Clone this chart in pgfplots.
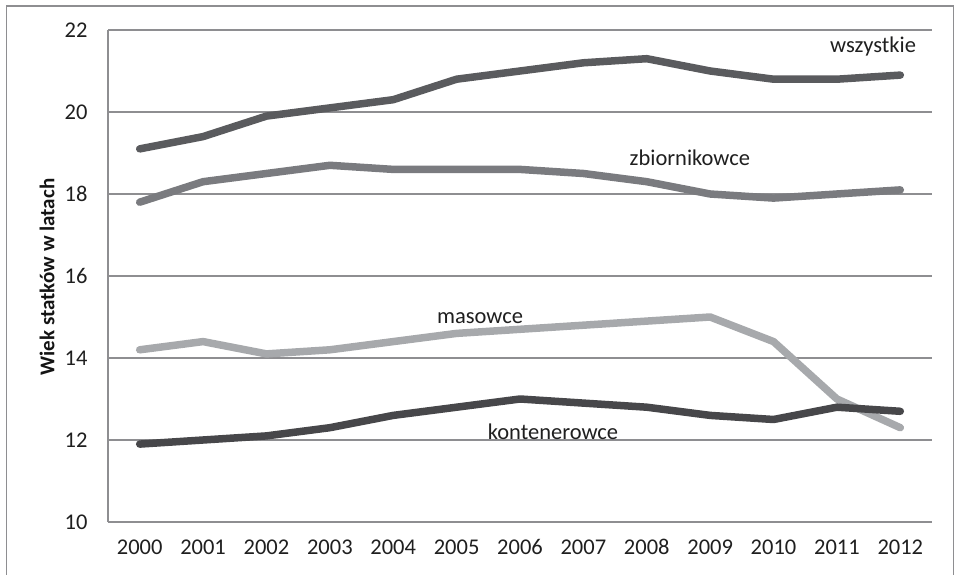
\documentclass[border=0pt]{standalone}
\usepackage{pgfplots}
\pgfplotsset{compat=1.18}
\usepackage{fontspec}
\setmainfont{Carlito}
\definecolor{cwsz}{HTML}{5A5B5E}
\definecolor{czb}{HTML}{7A7B7F}
\definecolor{cmas}{HTML}{A7A9AC}
\definecolor{ckon}{HTML}{47474A}
\definecolor{cgrid}{HTML}{8E8E91}
\begin{document}
\begin{tikzpicture}
\useasboundingbox (-108bp,-53bp) rectangle (848bp,522bp);
\draw[cgrid, line width=1.2bp] (-101.5bp,-60bp) -- (-101.5bp,516bp) -- (845.5bp,516bp) -- (845.5bp,-60bp);
\begin{axis}[
  at={(0bp,0bp)}, anchor=south west,
  scale only axis, width=824bp, height=492bp,
  xmin=-0.5, xmax=12.5, ymin=10, ymax=22,
  xtick={0,...,12},
  xticklabels={2000,2001,2002,2003,2004,2005,2006,2007,2008,2009,2010,2011,2012},
  ytick={10,12,...,22},
  ymajorgrids, grid style={cgrid, line width=1.2bp},
  axis x line*=bottom, axis y line*=left,
  axis line style={cgrid, line width=1.5bp, -},
  tick style={draw=none},
  major tick length=0pt,
  tick label style={font=\fontsize{22.5bp}{26bp}\selectfont, text=black!88},
  /pgf/number format/assume math mode=true,
  yticklabel style={xshift=-17bp},
  xticklabel style={yshift=-14bp},
  clip=false,
  every axis plot/.append style={line width=7.5bp, line join=round, line cap=round},
]
\addplot[cwsz] coordinates {(0,19.1)(1,19.4)(2,19.9)(3,20.1)(4,20.3)(5,20.8)(6,21.0)(7,21.2)(8,21.3)(9,21.0)(10,20.8)(11,20.8)(12,20.9)};
\addplot[czb] coordinates {(0,17.8)(1,18.3)(2,18.5)(3,18.7)(4,18.6)(5,18.6)(6,18.6)(7,18.5)(8,18.3)(9,18.0)(10,17.9)(11,18.0)(12,18.1)};
\addplot[cmas] coordinates {(0,14.2)(1,14.4)(2,14.1)(3,14.2)(4,14.4)(5,14.6)(6,14.7)(7,14.8)(8,14.9)(9,15.0)(10,14.4)(11,13.0)(12,12.3)};
\addplot[ckon] coordinates {(0,11.9)(1,12.0)(2,12.1)(3,12.3)(4,12.6)(5,12.8)(6,13.0)(7,12.9)(8,12.8)(9,12.6)(10,12.5)(11,12.8)(12,12.7)};
\begin{scope}[every node/.style={font=\fontsize{22.5bp}{26bp}\selectfont, text=black!88}]
\node at (axis cs:11.57,21.59) {wszystkie};
\node at (axis cs:8.68,18.88) {zbiornikowce};
\node at (axis cs:5.37,14.98) {masowce};
\node at (axis cs:6.52,12.2) {kontenerowce};
\end{scope}
\end{axis}
\node[rotate=90, font=\fontsize{21bp}{25bp}\selectfont\bfseries, text=black!92] at (-61bp,245bp) {Wiek statków w latach};
\end{tikzpicture}
\end{document}
